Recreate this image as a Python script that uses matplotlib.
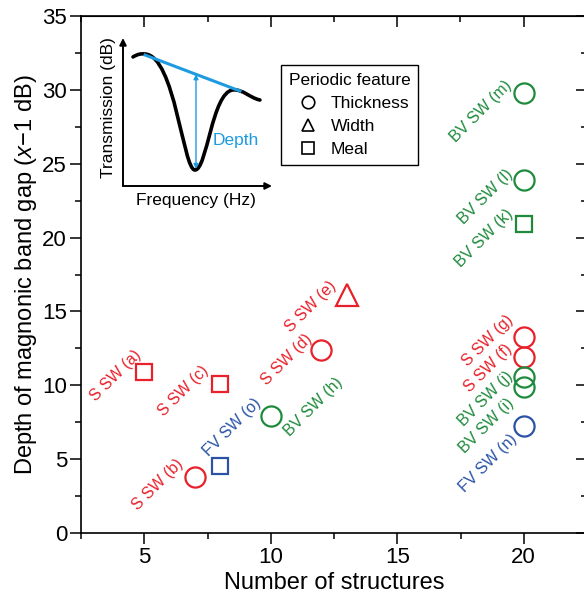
import matplotlib
matplotlib.use("Agg")
import matplotlib.pyplot as plt
from matplotlib.lines import Line2D
from matplotlib.patches import PathPatch
from matplotlib.path import Path
from matplotlib.ticker import MultipleLocator

plt.rcParams.update({
    "font.family": "Liberation Sans",
    "mathtext.fontset": "custom",
    "mathtext.rm": "Liberation Sans",
    "mathtext.it": "Liberation Sans:italic",
})

# Data
n_structures = [5, 7, 8, 8, 10, 12, 13, 20, 20, 20, 20, 20, 20, 20, 20]
depth_db = [10.9, 3.8, 10.1, 4.55, 7.9, 12.4, 16.1, 29.8, 23.9, 20.95,
            13.25, 11.9, 10.55, 9.9, 7.25]
point_names = ["S SW (a)", "S SW (b)", "S SW (c)", "FV SW (o)", "BV SW (h)",
               "S SW (d)", "S SW (e)", "BV SW (m)", "BV SW (l)", "BV SW (k)",
               "S SW (g)", "S SW (f)", "BV SW (j)", "BV SW (i)", "FV SW (n)"]
features = ["Meal", "Thickness", "Meal", "Meal", "Thickness",
            "Thickness", "Width", "Thickness", "Thickness", "Meal",
            "Thickness", "Thickness", "Thickness", "Thickness", "Thickness"]
wave_types = ["S", "S", "S", "FV", "BV", "S", "S", "BV", "BV", "BV",
              "S", "S", "BV", "BV", "FV"]

# label anchor offsets (pixels) from each marker
label_offsets = [(-5, 19), (-14, 15), (-14, 16), (38, 65), (70, 36),
                 (-12, 13), (-13, 12), (-14, 10), (-13, 8), (-13, 12),
                 (-13, 20), (-14, 11), (-13, 3), (-12, -14), (-9, -11)]

# schematic inset curve: Bezier control points (axes fraction)
curve_pts = [(0.067, 0.872), (0.101, 0.892), (0.121, 0.895), (0.148, 0.892),
             (0.349, 0.878), (0.403, 0.108), (0.483, 0.108),
             (0.564, 0.108), (0.597, 0.635), (0.738, 0.649),
             (0.805, 0.655), (0.852, 0.595), (0.919, 0.581)]

COLORS = {"S": "#E8202A", "BV": "#1E8A3C", "FV": "#2A52A6"}
MARKERS = {"Thickness": "o", "Width": "^", "Meal": "s"}
MSIZE = {"Thickness": 14.5, "Width": 16, "Meal": 12}
FEATURES = ["Thickness", "Width", "Meal"]
CYAN = "#1E9BE0"

W, H = 584, 597
fig = plt.figure(figsize=(W / 100, H / 100), dpi=100)
ax = fig.add_axes([81 / W, 64 / H, 506 / W, 517 / H])

for x, y, name, feat, wt, (dx, dy) in zip(n_structures, depth_db, point_names,
                                          features, wave_types, label_offsets):
    ax.plot(x, y, linestyle="none", marker=MARKERS[feat], markersize=MSIZE[feat],
            markerfacecolor="none", markeredgecolor=COLORS[wt],
            markeredgewidth=1.6, clip_on=False)
    ax.annotate(name, (x, y), xytext=(dx, dy), textcoords="offset pixels",
                rotation=45, rotation_mode="anchor", ha="right", va="center",
                color=COLORS[wt], fontsize=11.5)

ax.set_xlim(2.5, 22.5)
ax.set_ylim(0, 35)
ax.xaxis.set_major_locator(MultipleLocator(5))
ax.xaxis.set_minor_locator(MultipleLocator(2.5))
ax.yaxis.set_major_locator(MultipleLocator(5))
ax.yaxis.set_minor_locator(MultipleLocator(2.5))
ax.tick_params(which="both", direction="out", width=1.1, labelsize=16, pad=2)
ax.tick_params(which="major", length=8)
ax.tick_params(which="minor", length=4.5)
for sp in ax.spines.values():
    sp.set_linewidth(1.2)

# inward ticks on top and right
top = ax.secondary_xaxis("top")
right = ax.secondary_yaxis("right")
for sec in (top, right):
    sec.tick_params(which="both", direction="in", width=1.1, labelsize=0)
    sec.tick_params(which="major", length=8)
    sec.tick_params(which="minor", length=4.5)
top.xaxis.set_major_locator(MultipleLocator(5))
top.xaxis.set_minor_locator(MultipleLocator(2.5))
right.yaxis.set_major_locator(MultipleLocator(5))
right.yaxis.set_minor_locator(MultipleLocator(2.5))
top.set_xticklabels([])
right.set_yticklabels([])

ax.set_xlabel("Number of structures", fontsize=17, labelpad=3)
ax.set_ylabel("Depth of magnonic band gap ($\\mathit{x}$\u22121 dB)",
              fontsize=17, labelpad=2)

# legend
handles = [Line2D([], [], linestyle="none", marker=MARKERS[f], markersize=9,
                  markerfacecolor="none", markeredgecolor="black",
                  markeredgewidth=1.2) for f in FEATURES]
leg = fig.legend(handles, FEATURES, title="Periodic feature",
                 loc="upper left", bbox_to_anchor=(281 / W, 1 - 65 / H),
                 borderaxespad=0, fontsize=12.5, title_fontsize=12.5,
                 alignment="left", handlelength=2.2, handletextpad=0.2,
                 labelspacing=0.45, borderpad=0.45, fancybox=False,
                 framealpha=1, edgecolor="black")
leg.get_frame().set_linewidth(1.0)

# inset schematic
ins = fig.add_axes([123 / W, 1 - 186 / H, 149 / W, 148 / H])
ins.set_xlim(0, 1)
ins.set_ylim(0, 1)
ins.axis("off")
ins.annotate("", xy=(0, 1.0), xytext=(0, 0),
             arrowprops=dict(arrowstyle="-|>", lw=1.4, color="black",
                             mutation_scale=10, shrinkA=0, shrinkB=0))
ins.annotate("", xy=(1.0, 0), xytext=(0, 0),
             arrowprops=dict(arrowstyle="-|>", lw=1.4, color="black",
                             mutation_scale=10, shrinkA=0, shrinkB=0))
codes = [Path.MOVETO] + [Path.CURVE4] * (len(curve_pts) - 1)
ins.add_patch(PathPatch(Path(curve_pts, codes), facecolor="none",
                        edgecolor="black", lw=2.6, capstyle="round"))
ins.plot([0.148, 0.785], [0.885, 0.642], color=CYAN, lw=2.2)
ins.annotate("", xy=(0.49, 0.755), xytext=(0.49, 0.115),
             arrowprops=dict(arrowstyle="<|-|>", lw=1.0, color=CYAN,
                             mutation_scale=7, shrinkA=0, shrinkB=0))
ins.text(0.60, 0.31, "Depth", color=CYAN, fontsize=12.5,
         ha="left", va="center")
ins.text(-0.1, 0.53, "Transmission (dB)", rotation=90, fontsize=12.5,
         ha="center", va="center")
ins.text(0.49, -0.1, "Frequency (Hz)", fontsize=12.5, ha="center", va="center")

fig.savefig("out.png", dpi=100)
